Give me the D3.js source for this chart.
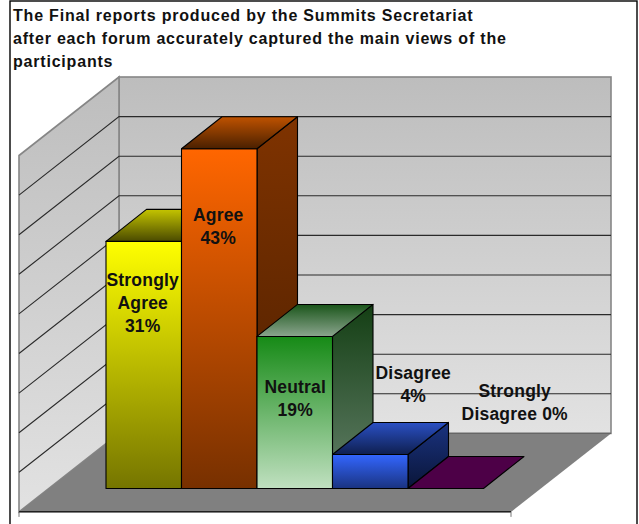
<!DOCTYPE html>
<html><head><meta charset="utf-8">
<script src="https://cdn.jsdelivr.net/npm/d3@7"></script>
<style>html,body{margin:0;padding:0;background:#fff;overflow:hidden}svg{display:block}
text{font-family:"Liberation Sans",Arial,sans-serif;font-weight:bold;fill:#111}</style>
</head><body><svg id="c" width="639" height="524"></svg>
<script>
const titleLines = ["The Final reports produced by the Summits Secretariat",
  "after each forum accurately captured the main views of the","participants"];
const categories = ["Strongly Agree","Agree","Neutral","Disagree","Strongly Disagree"];
const values = [31.2,42.9,19.2,4.3,0];
const labelLines = [["Strongly","Agree","31%"],["Agree","43%"],["Neutral","19%"],["Disagree","4%"],["Strongly","Disagree 0%"]];
const axisTicks = [0,5,10,15,20,25,30,35,40,45];
const faceFront = [["#ffff00","#757500"],["#ff6600","#773000"],["#168a16","#c0e0c0"],["#3366ff","#1a3380"],["#4d0047","#4d0047"]];
const faceSide = [["#7f7f00","#404000"],["#7f3300","#4a1e00"],["#143f14","#64806a"],["#1a3380","#0a1538"],["#4d0047","#4d0047"]];
const faceTop = [["#c4c400","#4a4a00"],["#bf5200","#4a2000"],["#1a551a","#8ba58e"],["#2a50c4","#0f1f50"],["#4d0047","#4d0047"]];

const svg = d3.select("#c"), defs = svg.append("defs");
function grad(id, c){
  const g = defs.append("linearGradient").attr("id",id).attr("x1",0).attr("y1",0).attr("x2",0).attr("y2",1);
  g.append("stop").attr("offset",0).attr("stop-color",c[0]);
  g.append("stop").attr("offset",1).attr("stop-color",c[1]);
}
grad("wall",["#bdbdbd","#e2e2e2"]);
categories.forEach((_,i)=>{grad("f"+i,faceFront[i]);grad("s"+i,faceSide[i]);grad("t"+i,faceTop[i]);});

// layout
const yBack = d3.scaleLinear().domain([0,45]).range([433.4,77]);
const wallDx = 100, wallDy = 78.5, floorRight = 611, backLeft = 119;
const yFront = d3.scaleLinear().domain([0,45]).range([488.5,488.5-356.4]);
const x = d3.scaleBand().domain(categories).range([106,483.5]).padding(0);
const depthX = 40.5, depthY = 32;
const pts = a => a.map(p=>p.join(",")).join(" ");

svg.append("rect").attr("x",10).attr("y",1).attr("width",627).attr("height",540)
  .attr("fill","#fff").attr("stroke","#000").attr("stroke-width",1.4);

// title
svg.append("g").selectAll("text").data(titleLines).join("text")
  .attr("x",13).attr("y",(d,i)=>20.5+i*23).attr("font-size",16).attr("letter-spacing",0.8).text(d=>d);

// walls
svg.append("rect").attr("x",backLeft).attr("y",yBack(45)).attr("width",floorRight-backLeft)
  .attr("height",yBack(0)-yBack(45)).attr("fill","url(#wall)").attr("stroke","#868686").attr("stroke-width",1.6);
svg.append("polygon").attr("points",pts([[backLeft-wallDx,yBack(45)+wallDy],[backLeft,yBack(45)],[backLeft,yBack(0)],[backLeft-wallDx,yBack(0)+wallDy]]))
  .attr("fill","url(#wall)").attr("stroke","#868686").attr("stroke-width",1.6);

// gridlines
const grid = svg.append("g").attr("fill","none").attr("stroke","#2a2a2a").attr("stroke-width",1.1);
axisTicks.slice(1,-1).forEach(t=>{
  grid.append("polyline").attr("points",pts([[backLeft-wallDx,yBack(t)+wallDy],[backLeft,yBack(t)],[floorRight,yBack(t)]]));
});

// floor
const fy = yBack(0), fx0 = backLeft-wallDx, fx1 = floorRight-wallDx;
svg.append("polygon").attr("points",pts([[backLeft,fy],[floorRight,fy],[fx1,fy+wallDy],[fx0,fy+wallDy]])).attr("fill","#808080");
svg.append("line").attr("x1",fx0).attr("x2",fx1).attr("y1",fy+wallDy).attr("y2",fy+wallDy).attr("stroke","#000").attr("stroke-width",1.2);
svg.append("line").attr("x1",backLeft).attr("x2",floorRight).attr("y1",fy).attr("y2",fy).attr("stroke","#666").attr("stroke-width",1.4);
svg.append("path").attr("d",`M${fx0},${fy+wallDy}V${fy+wallDy+5}M${fx1},${fy+wallDy}V${fy+wallDy+5}`).attr("stroke","#777").attr("fill","none");

// bars (back to front, left to right)
const bars = svg.append("g").attr("stroke","#000").attr("stroke-width",1.1).attr("stroke-linejoin","round");
categories.forEach((c,i)=>{
  const x0 = x(c), x1 = x0 + x.bandwidth(), yb = yFront(0), yt = yFront(values[i]);
  const g = bars.append("g");
  if(values[i] > 0){
    g.append("polygon").attr("points",pts([[x1,yt],[x1+depthX,yt-depthY],[x1+depthX,yb-depthY],[x1,yb]])).attr("fill",`url(#s${i})`);
    g.append("rect").attr("x",x0).attr("y",yt).attr("width",x1-x0).attr("height",yb-yt).attr("fill",`url(#f${i})`);
  }
  g.append("polygon").attr("points",pts([[x0,yt],[x0+depthX,yt-depthY],[x1+depthX,yt-depthY],[x1,yt]])).attr("fill",`url(#t${i})`);
});

// data labels: offsets from the top of each bar's front face
const labelDy = [44.5,72,56.5,-75,-92], labelDx = [-1,-1,0.5,43,69], lineGap = 23;
const labels = svg.append("g").attr("text-anchor","middle").attr("font-size",17.5).attr("letter-spacing",0.2);
categories.forEach((c,i)=>{
  const cx = x(c)+x.bandwidth()/2 + labelDx[i], y0 = yFront(values[i]) + labelDy[i];
  labelLines[i].forEach((t,j)=>{
    labels.append("text").attr("x",cx).attr("y",y0+j*lineGap).text(t);
  });
});
</script></body></html>
